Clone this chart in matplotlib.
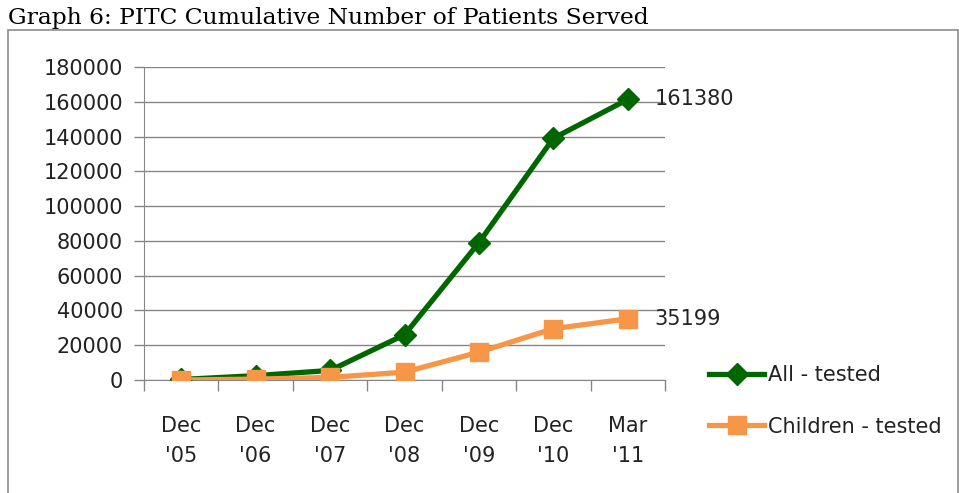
import numpy as np
import matplotlib.pyplot as plt
from matplotlib.patches import Rectangle

periods = ["Dec\n'05", "Dec\n'06", "Dec\n'07", "Dec\n'08", "Dec\n'09", "Dec\n'10", "Mar\n'11"]
all_tested = [300, 2500, 5500, 26000, 79000, 139000, 161380]
children_tested = [0, 500, 1500, 4500, 16000, 29500, 35199]
y_ticks = list(range(0, 180001, 20000))

W, H = 959, 493
fig = plt.figure(figsize=(W / 100, H / 100), dpi=100)

# outer chart border
fig.patches.append(Rectangle((8 / W, -0.05), (W - 9) / W, (H - 30) / H + 0.05,
                             transform=fig.transFigure, fill=False,
                             edgecolor='#8c8c8c', linewidth=1.2))

fig.text(8 / W, 1 - 18 / H, 'Graph 6: PITC Cumulative Number of Patients Served',
         family='DejaVu Serif', fontsize=16.8, va='center', ha='left')

ax = fig.add_axes([144 / W, 113 / H, (665 - 144) / W, (380 - 67) / H])
x = np.arange(len(periods))
fs = 15

ax.plot(x, all_tested, color='#006600', linewidth=3.8, marker='D', markersize=11,
        label='All - tested', zorder=3)
ax.plot(x, children_tested, color='#F79646', linewidth=3.8, marker='s', markersize=13,
        label='Children - tested', zorder=4)

ax.set_xlim(-0.5, len(periods) - 0.5)
ax.set_ylim(0, 180000)
ax.set_yticks(y_ticks)
ax.set_yticklabels([str(v) for v in y_ticks], family='DejaVu Sans', fontsize=fs, color='#222222')
ax.set_xticks(x)
ax.set_xticklabels(periods, family='DejaVu Sans', fontsize=fs, color='#222222', linespacing=1.6)
ax.set_xticks(np.arange(-0.5, len(periods)), minor=True)
ax.tick_params(axis='x', which='major', length=0, pad=26)
ax.tick_params(axis='x', which='minor', length=8, color='#868686', width=1, direction='out')
ax.tick_params(axis='y', length=7, color='#868686', width=1, pad=8)

ax.grid(axis='y', color='#868686', linewidth=1)
for s in ['top', 'right']:
    ax.spines[s].set_visible(False)
ax.spines['left'].set_color('#868686')
ax.spines['bottom'].set_color('#868686')
ax.set_axisbelow(True)

ax.text(len(periods) - 1 + 0.36, all_tested[-1], str(all_tested[-1]),
        family='DejaVu Sans', fontsize=fs, va='center', ha='left', color='#222222')
ax.text(len(periods) - 1 + 0.36, children_tested[-1], str(children_tested[-1]),
        family='DejaVu Sans', fontsize=fs, va='center', ha='left', color='#222222')

leg = ax.legend(loc='center left', bbox_to_anchor=(699 / W, (H - 401) / H),
                bbox_transform=fig.transFigure, frameon=False,
                prop={'family': 'DejaVu Sans', 'size': fs},
                handlelength=2.6, handletextpad=0.2, labelspacing=1.5, borderpad=0)
for t in leg.get_texts():
    t.set_color('#222222')

fig.savefig('out.png', dpi=100)
